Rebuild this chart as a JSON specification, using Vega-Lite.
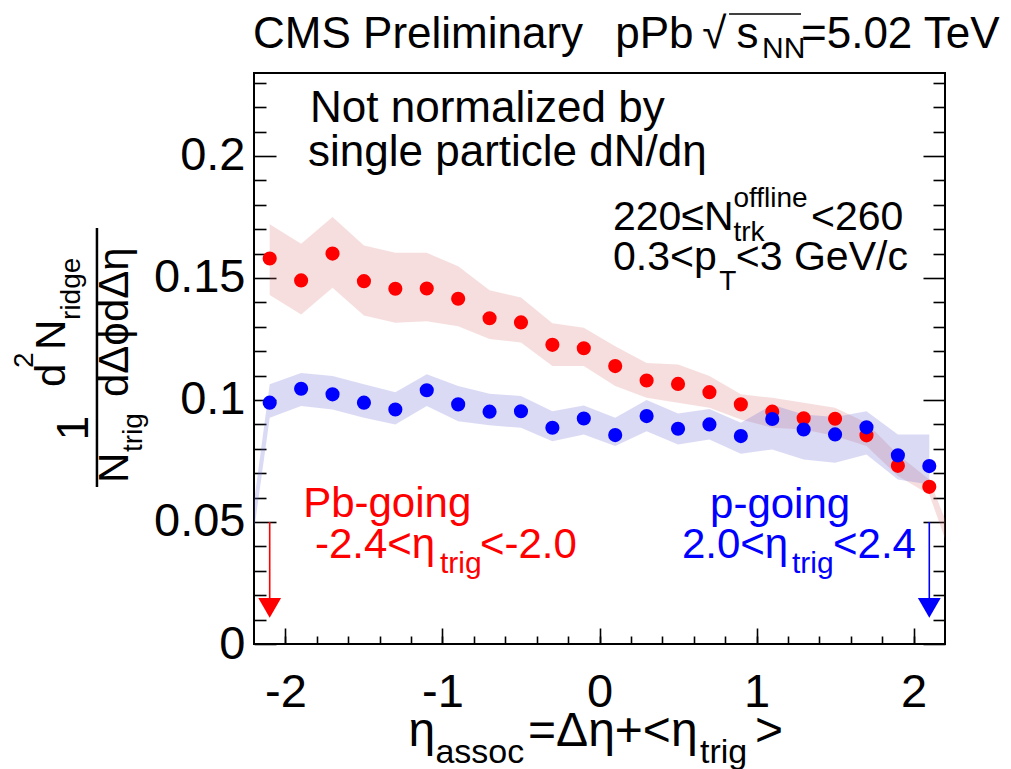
{
  "$schema": "https://vega.github.io/schema/vega-lite/v6.json",
  "width": 691,
  "height": 571,
  "autosize": {"type": "none"},
  "padding": {"left": 254, "top": 73, "right": 66, "bottom": 125},
  "background": "white",
  "config": {
    "view": {"stroke": "black", "strokeWidth": 2},
    "font": "Liberation Sans",
    "axis": {"domain": false, "grid": false, "tickColor": "black", "tickWidth": 1.6, "labelColor": "black", "labelFont": "Liberation Sans", "labelFontSize": 47, "title": null, "zindex": 1, "labelFlush": false, "labelOverlap": false}
  },
  "resolve": {"axis": {"x": "independent", "y": "independent"}},
  "datasets": {
    "red": [
      {"x": -2.1, "y": 0.158, "lo": 0.143, "hi": 0.172},
      {"x": -1.9, "y": 0.149, "lo": 0.135, "hi": 0.164},
      {"x": -1.7, "y": 0.160, "lo": 0.146, "hi": 0.175},
      {"x": -1.5, "y": 0.1487, "lo": 0.1346, "hi": 0.1633},
      {"x": -1.3, "y": 0.1456, "lo": 0.1316, "hi": 0.1603},
      {"x": -1.1, "y": 0.1457, "lo": 0.1323, "hi": 0.1603},
      {"x": -0.9, "y": 0.1415, "lo": 0.1302, "hi": 0.1548},
      {"x": -0.7, "y": 0.1335, "lo": 0.125, "hi": 0.145},
      {"x": -0.5, "y": 0.1318, "lo": 0.1236, "hi": 0.142},
      {"x": -0.3, "y": 0.1226, "lo": 0.1139, "hi": 0.1314},
      {"x": -0.1, "y": 0.1212, "lo": 0.1139, "hi": 0.1296},
      {"x": 0.1, "y": 0.1139, "lo": 0.1057, "hi": 0.122},
      {"x": 0.3, "y": 0.108, "lo": 0.1009, "hi": 0.1152},
      {"x": 0.5, "y": 0.1066, "lo": 0.0989, "hi": 0.1145},
      {"x": 0.7, "y": 0.1032, "lo": 0.0968, "hi": 0.1098},
      {"x": 0.9, "y": 0.0982, "lo": 0.092, "hi": 0.1023},
      {"x": 1.1, "y": 0.0952, "lo": 0.0886, "hi": 0.1009},
      {"x": 1.3, "y": 0.0925, "lo": 0.0879, "hi": 0.0989},
      {"x": 1.5, "y": 0.0923, "lo": 0.0852, "hi": 0.0968},
      {"x": 1.7, "y": 0.0855, "lo": 0.0811, "hi": 0.0907},
      {"x": 1.9, "y": 0.073, "lo": 0.0688, "hi": 0.0777},
      {"x": 2.1, "y": 0.0644, "lo": 0.0613, "hi": 0.0674},
      {"x": 2.3, "y": null, "lo": 0.025, "hi": 0.035}
    ],
    "blue": [
      {"x": -2.3, "y": null, "lo": 0.0, "hi": 0.01},
      {"x": -2.1, "y": 0.0989, "lo": 0.0927, "hi": 0.1064},
      {"x": -1.9, "y": 0.1046, "lo": 0.0975, "hi": 0.1111},
      {"x": -1.7, "y": 0.1023, "lo": 0.0961, "hi": 0.1098},
      {"x": -1.5, "y": 0.0989, "lo": 0.0927, "hi": 0.1064},
      {"x": -1.3, "y": 0.0961, "lo": 0.09, "hi": 0.1032},
      {"x": -1.1, "y": 0.104, "lo": 0.0975, "hi": 0.1105},
      {"x": -0.9, "y": 0.0982, "lo": 0.0913, "hi": 0.1057},
      {"x": -0.7, "y": 0.0952, "lo": 0.0896, "hi": 0.1026},
      {"x": -0.5, "y": 0.0954, "lo": 0.0886, "hi": 0.1016},
      {"x": -0.3, "y": 0.0886, "lo": 0.0831, "hi": 0.0954},
      {"x": -0.1, "y": 0.0924, "lo": 0.0859, "hi": 0.0977},
      {"x": 0.1, "y": 0.0856, "lo": 0.0811, "hi": 0.0927},
      {"x": 0.3, "y": 0.0934, "lo": 0.0872, "hi": 0.1},
      {"x": 0.5, "y": 0.0882, "lo": 0.0818, "hi": 0.0945},
      {"x": 0.7, "y": 0.09, "lo": 0.0838, "hi": 0.0963},
      {"x": 0.9, "y": 0.0852, "lo": 0.078, "hi": 0.0907},
      {"x": 1.1, "y": 0.0922, "lo": 0.0797, "hi": 0.098},
      {"x": 1.3, "y": 0.0879, "lo": 0.0756, "hi": 0.094},
      {"x": 1.5, "y": 0.0859, "lo": 0.0743, "hi": 0.093},
      {"x": 1.7, "y": 0.0888, "lo": 0.0777, "hi": 0.0954},
      {"x": 1.9, "y": 0.0773, "lo": 0.0674, "hi": 0.0859},
      {"x": 2.1, "y": 0.0729, "lo": 0.0654, "hi": 0.0859}
    ],
    "txt44": [
      {"t": "CMS Preliminary", "x": -2.206, "y": 0.2443},
      {"t": "pPb", "x": 0.1, "y": 0.2443},
      {"t": "√", "x": 0.655, "y": 0.2443},
      {"t": "s", "x": 0.872, "y": 0.2443},
      {"t": "=5.02 TeV", "x": 1.283, "y": 0.2443},
      {"t": "Not normalized by", "x": -1.843, "y": 0.2139},
      {"t": "single particle dN/dη", "x": -1.856, "y": 0.1959}
    ],
    "txt48": [
      {"t": "η", "x": -1.217, "y": -0.0418},
      {"t": "=Δη+<η", "x": -0.455, "y": -0.0418},
      {"t": ">", "x": 0.99, "y": -0.0418}
    ],
    "txt34": [
      {"t": "assoc", "x": -1.045, "y": -0.0488},
      {"t": "trig", "x": 0.64, "y": -0.0488}
    ],
    "txt30": [
      {"t": "NN", "x": 1.035, "y": 0.2402}
    ],
    "txt41": [
      {"t": "220≤N", "x": 0.086, "y": 0.1697},
      {"t": "<260", "x": 1.347, "y": 0.1697},
      {"t": "0.3<p", "x": 0.086, "y": 0.1533},
      {"t": "<3 GeV/c", "x": 0.868, "y": 0.1533}
    ],
    "txt28": [
      {"t": "offline", "x": 0.853, "y": 0.1791},
      {"t": "trk", "x": 0.853, "y": 0.1652},
      {"t": "T", "x": 0.763, "y": 0.1451}
    ],
    "redtxt": [
      {"t": "Pb-going", "x": -1.887, "y": 0.052},
      {"t": "-2.4<η", "x": -1.812, "y": 0.0352},
      {"t": "<-2.0", "x": -0.761, "y": 0.0352}
    ],
    "redsub": [{"t": "trig", "x": -1.016, "y": 0.0291}],
    "bluetxt": [
      {"t": "p-going", "x": 0.704, "y": 0.0516},
      {"t": "2.0<η", "x": 0.525, "y": 0.0352},
      {"t": "<2.4", "x": 1.487, "y": 0.0352}
    ],
    "bluesub": [{"t": "trig", "x": 1.226, "y": 0.0291}],
    "ytitleOne": [{"t": "1", "x": -3.257, "y": 0.0885}],
    "ytitleMain": [
      {"t": "d", "x": -3.403, "y": 0.1053},
      {"t": "N", "x": -3.403, "y": 0.1205},
      {"t": "N", "x": -3.0, "y": 0.066},
      {"t": "dΔϕdΔη", "x": -3.0, "y": 0.1012}
    ],
    "ytitleSmall": [
      {"t": "2", "x": -3.607, "y": 0.1131},
      {"t": "ridge", "x": -3.308, "y": 0.1328},
      {"t": "trig", "x": -2.913, "y": 0.0787}
    ],
    "fracbar": [{"x": -3.2, "y1": 0.0643, "y2": 0.1705}],
    "overline": [{"x1": 0.825, "x2": 1.283, "y": 0.2582}],
    "redArrow": [{"x": -2.1, "y1": 0.05, "y2": 0.0175, "tip": 0.0148}],
    "blueArrow": [{"x": 2.1, "y1": 0.05, "y2": 0.0175, "tip": 0.0148}]
  },
  "layer": [
    {
      "data": {"name": "red"},
      "mark": {"type": "area", "color": "#d46a6a", "opacity": 0.22, "clip": true, "interpolate": "linear"},
      "encoding": {
        "x": {"field": "x", "type": "quantitative", "scale": {"domain": [-2.2, 2.2], "nice": false, "zero": false},
              "axis": {"orient": "bottom", "values": [-2, -1, 0, 1, 2], "offset": -16, "tickSize": 16, "labelPadding": 25, "labelExpr": "'' + datum.value"}},
        "y": {"field": "lo", "type": "quantitative", "scale": {"domain": [0, 0.234], "nice": false, "zero": false},
              "axis": {"orient": "left", "values": [0, 0.05, 0.1, 0.15, 0.2], "offset": -22, "tickSize": 22, "labelPadding": 9, "labelExpr": "'' + datum.value"}},
        "y2": {"field": "hi"}
      }
    },
    {
      "data": {"name": "blue"},
      "mark": {"type": "area", "color": "#6b6bd9", "opacity": 0.25, "clip": true, "interpolate": "linear"},
      "encoding": {
        "x": {"field": "x", "type": "quantitative", "scale": {"domain": [-2.2, 2.2], "nice": false, "zero": false},
              "axis": {"orient": "bottom", "values": [-2, -1.8, -1.6, -1.4, -1.2, -1, -0.8, -0.6, -0.4, -0.2, 0, 0.2, 0.4, 0.6, 0.8, 1, 1.2, 1.4, 1.6, 1.8, 2], "offset": -8, "tickSize": 8, "labels": false}},
        "y": {"field": "lo", "type": "quantitative", "scale": {"domain": [0, 0.234], "nice": false, "zero": false},
              "axis": {"orient": "left", "values": [0.01, 0.02, 0.03, 0.04, 0.06, 0.07, 0.08, 0.09, 0.11, 0.12, 0.13, 0.14, 0.16, 0.17, 0.18, 0.19, 0.21, 0.22, 0.23], "offset": -12, "tickSize": 12, "labels": false}},
        "y2": {"field": "hi"}
      }
    },
    {
      "data": {"name": "red"},
      "transform": [{"filter": "datum.y != null"}],
      "mark": {"type": "point", "filled": true, "color": "#ff0000", "size": 200, "opacity": 1, "clip": true},
      "encoding": {
        "x": {"field": "x", "type": "quantitative", "scale": {"domain": [-2.2, 2.2], "nice": false, "zero": false}, "axis": null},
        "y": {"field": "y", "type": "quantitative", "scale": {"domain": [0, 0.234], "nice": false, "zero": false},
              "axis": {"orient": "right", "values": [0, 0.05, 0.1, 0.15, 0.2], "offset": -22, "tickSize": 22, "labels": false}}
      }
    },
    {
      "data": {"name": "blue"},
      "transform": [{"filter": "datum.y != null"}],
      "mark": {"type": "point", "filled": true, "color": "#0000ff", "size": 200, "opacity": 1, "clip": true},
      "encoding": {
        "x": {"field": "x", "type": "quantitative", "scale": {"domain": [-2.2, 2.2], "nice": false, "zero": false}, "axis": null},
        "y": {"field": "y", "type": "quantitative", "scale": {"domain": [0, 0.234], "nice": false, "zero": false},
              "axis": {"orient": "right", "values": [0.01, 0.02, 0.03, 0.04, 0.06, 0.07, 0.08, 0.09, 0.11, 0.12, 0.13, 0.14, 0.16, 0.17, 0.18, 0.19, 0.21, 0.22, 0.23], "offset": -12, "tickSize": 12, "labels": false}}
      }
    },
    {
      "data": {"name": "redArrow"},
      "mark": {"type": "rule", "color": "#ff0000", "strokeWidth": 1.6},
      "encoding": {
        "x": {"field": "x", "type": "quantitative", "scale": {"domain": [-2.2, 2.2], "nice": false, "zero": false}, "axis": null},
        "y": {"field": "y1", "type": "quantitative", "scale": {"domain": [0, 0.234], "nice": false, "zero": false}, "axis": null},
        "y2": {"field": "y2"}
      }
    },
    {
      "data": {"name": "redArrow"},
      "mark": {"type": "point", "shape": "triangle-down", "filled": true, "color": "#ff0000", "size": 520, "opacity": 1},
      "encoding": {
        "x": {"field": "x", "type": "quantitative", "scale": {"domain": [-2.2, 2.2], "nice": false, "zero": false}, "axis": null},
        "y": {"field": "tip", "type": "quantitative", "scale": {"domain": [0, 0.234], "nice": false, "zero": false}, "axis": null}
      }
    },
    {
      "data": {"name": "blueArrow"},
      "mark": {"type": "rule", "color": "#0000ff", "strokeWidth": 1.6},
      "encoding": {
        "x": {"field": "x", "type": "quantitative", "scale": {"domain": [-2.2, 2.2], "nice": false, "zero": false}, "axis": null},
        "y": {"field": "y1", "type": "quantitative", "scale": {"domain": [0, 0.234], "nice": false, "zero": false}, "axis": null},
        "y2": {"field": "y2"}
      }
    },
    {
      "data": {"name": "blueArrow"},
      "mark": {"type": "point", "shape": "triangle-down", "filled": true, "color": "#0000ff", "size": 520, "opacity": 1},
      "encoding": {
        "x": {"field": "x", "type": "quantitative", "scale": {"domain": [-2.2, 2.2], "nice": false, "zero": false}, "axis": null},
        "y": {"field": "tip", "type": "quantitative", "scale": {"domain": [0, 0.234], "nice": false, "zero": false}, "axis": null}
      }
    },
    {
      "data": {"name": "fracbar"},
      "mark": {"type": "rule", "color": "black", "strokeWidth": 2.5},
      "encoding": {
        "x": {"field": "x", "type": "quantitative", "scale": {"domain": [-2.2, 2.2], "nice": false, "zero": false}, "axis": null},
        "y": {"field": "y1", "type": "quantitative", "scale": {"domain": [0, 0.234], "nice": false, "zero": false}, "axis": null},
        "y2": {"field": "y2"}
      }
    },
    {
      "data": {"name": "overline"},
      "mark": {"type": "rule", "color": "black", "strokeWidth": 1.6},
      "encoding": {
        "x": {"field": "x1", "type": "quantitative", "scale": {"domain": [-2.2, 2.2], "nice": false, "zero": false}, "axis": null},
        "x2": {"field": "x2"},
        "y": {"field": "y", "type": "quantitative", "scale": {"domain": [0, 0.234], "nice": false, "zero": false}, "axis": null}
      }
    },
    {
      "data": {"name": "txt44"},
      "mark": {"type": "text", "align": "left", "baseline": "alphabetic", "fontSize": 44, "color": "black"},
      "encoding": {
        "x": {"field": "x", "type": "quantitative", "scale": {"domain": [-2.2, 2.2], "nice": false, "zero": false}, "axis": null},
        "y": {"field": "y", "type": "quantitative", "scale": {"domain": [0, 0.234], "nice": false, "zero": false}, "axis": null},
        "text": {"field": "t"}
      }
    },
    {
      "data": {"name": "txt48"},
      "mark": {"type": "text", "align": "left", "baseline": "alphabetic", "fontSize": 48, "color": "black"},
      "encoding": {
        "x": {"field": "x", "type": "quantitative", "scale": {"domain": [-2.2, 2.2], "nice": false, "zero": false}, "axis": null},
        "y": {"field": "y", "type": "quantitative", "scale": {"domain": [0, 0.234], "nice": false, "zero": false}, "axis": null},
        "text": {"field": "t"}
      }
    },
    {
      "data": {"name": "txt34"},
      "mark": {"type": "text", "align": "left", "baseline": "alphabetic", "fontSize": 34, "color": "black"},
      "encoding": {
        "x": {"field": "x", "type": "quantitative", "scale": {"domain": [-2.2, 2.2], "nice": false, "zero": false}, "axis": null},
        "y": {"field": "y", "type": "quantitative", "scale": {"domain": [0, 0.234], "nice": false, "zero": false}, "axis": null},
        "text": {"field": "t"}
      }
    },
    {
      "data": {"name": "txt30"},
      "mark": {"type": "text", "align": "left", "baseline": "alphabetic", "fontSize": 30, "color": "black"},
      "encoding": {
        "x": {"field": "x", "type": "quantitative", "scale": {"domain": [-2.2, 2.2], "nice": false, "zero": false}, "axis": null},
        "y": {"field": "y", "type": "quantitative", "scale": {"domain": [0, 0.234], "nice": false, "zero": false}, "axis": null},
        "text": {"field": "t"}
      }
    },
    {
      "data": {"name": "txt41"},
      "mark": {"type": "text", "align": "left", "baseline": "alphabetic", "fontSize": 41, "color": "black"},
      "encoding": {
        "x": {"field": "x", "type": "quantitative", "scale": {"domain": [-2.2, 2.2], "nice": false, "zero": false}, "axis": null},
        "y": {"field": "y", "type": "quantitative", "scale": {"domain": [0, 0.234], "nice": false, "zero": false}, "axis": null},
        "text": {"field": "t"}
      }
    },
    {
      "data": {"name": "txt28"},
      "mark": {"type": "text", "align": "left", "baseline": "alphabetic", "fontSize": 28, "color": "black"},
      "encoding": {
        "x": {"field": "x", "type": "quantitative", "scale": {"domain": [-2.2, 2.2], "nice": false, "zero": false}, "axis": null},
        "y": {"field": "y", "type": "quantitative", "scale": {"domain": [0, 0.234], "nice": false, "zero": false}, "axis": null},
        "text": {"field": "t"}
      }
    },
    {
      "data": {"name": "redtxt"},
      "mark": {"type": "text", "align": "left", "baseline": "alphabetic", "fontSize": 42, "color": "#ff0000"},
      "encoding": {
        "x": {"field": "x", "type": "quantitative", "scale": {"domain": [-2.2, 2.2], "nice": false, "zero": false}, "axis": null},
        "y": {"field": "y", "type": "quantitative", "scale": {"domain": [0, 0.234], "nice": false, "zero": false}, "axis": null},
        "text": {"field": "t"}
      }
    },
    {
      "data": {"name": "redsub"},
      "mark": {"type": "text", "align": "left", "baseline": "alphabetic", "fontSize": 30, "color": "#ff0000"},
      "encoding": {
        "x": {"field": "x", "type": "quantitative", "scale": {"domain": [-2.2, 2.2], "nice": false, "zero": false}, "axis": null},
        "y": {"field": "y", "type": "quantitative", "scale": {"domain": [0, 0.234], "nice": false, "zero": false}, "axis": null},
        "text": {"field": "t"}
      }
    },
    {
      "data": {"name": "bluetxt"},
      "mark": {"type": "text", "align": "left", "baseline": "alphabetic", "fontSize": 42, "color": "#0000ff"},
      "encoding": {
        "x": {"field": "x", "type": "quantitative", "scale": {"domain": [-2.2, 2.2], "nice": false, "zero": false}, "axis": null},
        "y": {"field": "y", "type": "quantitative", "scale": {"domain": [0, 0.234], "nice": false, "zero": false}, "axis": null},
        "text": {"field": "t"}
      }
    },
    {
      "data": {"name": "bluesub"},
      "mark": {"type": "text", "align": "left", "baseline": "alphabetic", "fontSize": 30, "color": "#0000ff"},
      "encoding": {
        "x": {"field": "x", "type": "quantitative", "scale": {"domain": [-2.2, 2.2], "nice": false, "zero": false}, "axis": null},
        "y": {"field": "y", "type": "quantitative", "scale": {"domain": [0, 0.234], "nice": false, "zero": false}, "axis": null},
        "text": {"field": "t"}
      }
    },
    {
      "data": {"name": "ytitleOne"},
      "mark": {"type": "text", "align": "center", "baseline": "alphabetic", "fontSize": 44, "angle": 270, "color": "black"},
      "encoding": {
        "x": {"field": "x", "type": "quantitative", "scale": {"domain": [-2.2, 2.2], "nice": false, "zero": false}, "axis": null},
        "y": {"field": "y", "type": "quantitative", "scale": {"domain": [0, 0.234], "nice": false, "zero": false}, "axis": null},
        "text": {"field": "t"}
      }
    },
    {
      "data": {"name": "ytitleMain"},
      "mark": {"type": "text", "align": "left", "baseline": "alphabetic", "fontSize": 42, "angle": 270, "color": "black"},
      "encoding": {
        "x": {"field": "x", "type": "quantitative", "scale": {"domain": [-2.2, 2.2], "nice": false, "zero": false}, "axis": null},
        "y": {"field": "y", "type": "quantitative", "scale": {"domain": [0, 0.234], "nice": false, "zero": false}, "axis": null},
        "text": {"field": "t"}
      }
    },
    {
      "data": {"name": "ytitleSmall"},
      "mark": {"type": "text", "align": "left", "baseline": "alphabetic", "fontSize": 28, "angle": 270, "color": "black"},
      "encoding": {
        "x": {"field": "x", "type": "quantitative", "scale": {"domain": [-2.2, 2.2], "nice": false, "zero": false}, "axis": null},
        "y": {"field": "y", "type": "quantitative", "scale": {"domain": [0, 0.234], "nice": false, "zero": false}, "axis": null},
        "text": {"field": "t"}
      }
    }
  ]
}
